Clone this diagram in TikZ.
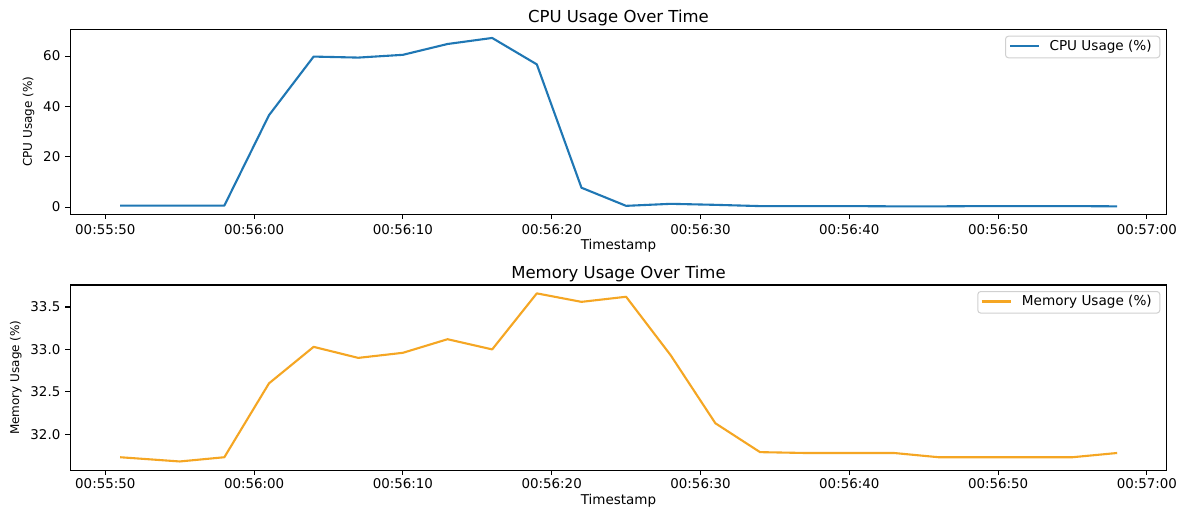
\documentclass[tikz,border=0pt]{standalone}
\usepackage{fontspec}
\setmainfont{DejaVu Sans}
\definecolor{cpublue}{HTML}{1F77B4}
\definecolor{memorange}{HTML}{F5A623}
\definecolor{legedge}{HTML}{D0D0D0}
\begin{document}
\begin{tikzpicture}[x=1pt,y=-1pt,
  declare function={tx(\t)=105.3+14.88*\t; cy(\v)=207.1-2.517*\v; my(\m)=434.3-84.9*(\m-32);},
  spine/.style={line width=1.1pt,black},
  tickmark/.style={line width=1.1pt,black},
  ticklab/.style={font=\fontsize{13.4}{15}\selectfont,inner sep=0pt},
  axlab/.style={font=\fontsize{13.5}{15}\selectfont,inner sep=0pt},
  ylab/.style={font=\fontsize{12}{14}\selectfont,inner sep=0pt,rotate=90},
  titlelab/.style={font=\fontsize{16.5}{18}\selectfont,inner sep=0pt},
  leglab/.style={font=\fontsize{13.6}{15}\selectfont,inner sep=0pt},
  legbox/.style={draw=legedge,fill=white,line width=1pt,rounded corners=3pt},
  cpuline/.style={cpublue,line width=2.1pt,line join=round},
  memline/.style={memorange,line width=2.1pt,line join=round}]
\useasboundingbox[fill=white] (0,0) rectangle (1185,511);

% ================= TOP: CPU =================
\coordinate (a1nw) at (70.3,29.5);
\coordinate (a1se) at (1166.7,214.3);
% data
\draw[cpuline] ({tx(1)},{cy(0.6)}) -- ({tx(5)},{cy(0.6)}) -- ({tx(8)},{cy(0.6)}) -- ({tx(11)},{cy(36.5)})
  -- ({tx(14)},{cy(59.8)}) -- ({tx(17)},{cy(59.4)}) -- ({tx(20)},{cy(60.5)}) -- ({tx(23)},{cy(64.8)})
  -- ({tx(26)},{cy(67.2)}) -- ({tx(29)},{cy(56.7)}) -- ({tx(32)},{cy(7.7)}) -- ({tx(35)},{cy(0.5)})
  -- ({tx(38)},{cy(1.3)}) -- ({tx(41)},{cy(0.9)}) -- ({tx(44)},{cy(0.4)}) -- ({tx(47)},{cy(0.4)})
  -- ({tx(50)},{cy(0.4)}) -- ({tx(53)},{cy(0.3)}) -- ({tx(56)},{cy(0.3)}) -- ({tx(59)},{cy(0.4)})
  -- ({tx(62)},{cy(0.4)}) -- ({tx(65)},{cy(0.4)}) -- ({tx(68)},{cy(0.3)});
\draw[spine] (a1nw) rectangle (a1se);
% x ticks
\foreach \t/\lab in {0/00:55:50,10/00:56:00,20/00:56:10,30/00:56:20,40/00:56:30,50/00:56:40,60/00:56:50,70/00:57:00}{
  \draw[tickmark] ({tx(\t)},214.3) -- ({tx(\t)},219.2);
  \node[ticklab] (cx\t) at ({tx(\t)},229.3) {\lab};
}
% y ticks
\foreach \v in {0,20,40,60}{
  \draw[tickmark] (65.4,{cy(\v)}) -- (70.3,{cy(\v)});
  \node[ticklab,anchor=east] (cyl\v) at (60.5,{cy(\v)}) {\v};
}
\node[titlelab,anchor=base] (t1) at (618.5,22.7) {CPU Usage Over Time};
\node[axlab,anchor=base] (xl1) at (618.5,249) {Timestamp};
\node[ylab] (yl1) at (28.5,121.8) {CPU Usage (\%)};
% legend
\node[legbox,minimum width=154.3pt,minimum height=21.6pt,anchor=north west] (leg1) at (1005,35.7) {};
\coordinate (l1a) at (1010,46);
\coordinate (l1b) at (1039,46);
\draw[cpuline] (l1a) -- (l1b);
\node[leglab,anchor=west] (lt1) at (1049.3,46.5) {CPU Usage (\%)};

% ================= BOTTOM: MEMORY =================
\coordinate (a2nw) at (70.3,285);
\coordinate (a2se) at (1166.7,470.3);
\draw[memline] ({tx(1)},{my(31.73)}) -- ({tx(5)},{my(31.68)}) -- ({tx(8)},{my(31.73)}) -- ({tx(11)},{my(32.60)})
  -- ({tx(14)},{my(33.03)}) -- ({tx(17)},{my(32.90)}) -- ({tx(20)},{my(32.96)}) -- ({tx(23)},{my(33.12)})
  -- ({tx(26)},{my(33.00)}) -- ({tx(29)},{my(33.66)}) -- ({tx(32)},{my(33.56)}) -- ({tx(35)},{my(33.62)})
  -- ({tx(38)},{my(32.93)}) -- ({tx(41)},{my(32.13)}) -- ({tx(44)},{my(31.79)}) -- ({tx(47)},{my(31.78)})
  -- ({tx(50)},{my(31.78)}) -- ({tx(53)},{my(31.78)}) -- ({tx(56)},{my(31.73)}) -- ({tx(59)},{my(31.73)})
  -- ({tx(62)},{my(31.73)}) -- ({tx(65)},{my(31.73)}) -- ({tx(68)},{my(31.78)});
\draw[spine] (a2nw) rectangle (a2se);
\foreach \t/\lab in {0/00:55:50,10/00:56:00,20/00:56:10,30/00:56:20,40/00:56:30,50/00:56:40,60/00:56:50,70/00:57:00}{
  \draw[tickmark] ({tx(\t)},470.3) -- ({tx(\t)},475.2);
  \node[ticklab] (mx\t) at ({tx(\t)},483.3) {\lab};
}
\foreach \v/\lab in {32/32.0,32.5/32.5,33/33.0,33.5/33.5}{
  \draw[tickmark] (65.4,{my(\v)}) -- (70.3,{my(\v)});
  \node[ticklab,anchor=east] at (60.5,{my(\v)}) {\lab};
}
\node[titlelab,anchor=base] (t2) at (618.5,278) {Memory Usage Over Time};
\node[axlab,anchor=base] (xl2) at (618.5,504.8) {Timestamp};
\node[ylab] (yl2) at (15.7,377.7) {Memory Usage (\%)};
\node[legbox,minimum width=182pt,minimum height=21.6pt,anchor=north west] (leg2) at (977.3,291) {};
\coordinate (l2a) at (981.7,301.5);
\coordinate (l2b) at (1010.7,301.5);
\draw[memline] (l2a) -- (l2b);
\node[leglab,anchor=west] (lt2) at (1021.7,302) {Memory Usage (\%)};
\end{tikzpicture}
\end{document}
